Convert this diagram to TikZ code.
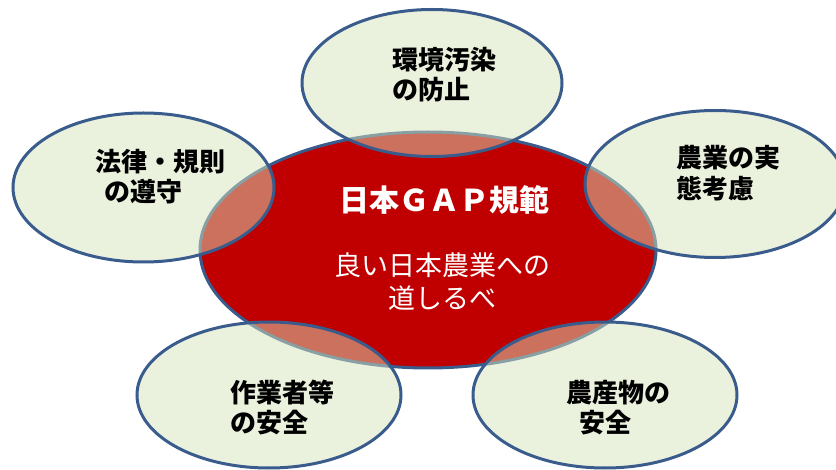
\documentclass[tikz,border=0pt]{standalone}
\usepackage{fontspec}
\usetikzlibrary{shapes.geometric}
\newfontfamily\jp{Noto Sans CJK JP}
\definecolor{coreRed}{RGB}{192,0,0}
\definecolor{rimBlue}{RGB}{58,92,140}
\definecolor{leafFill}{RGB}{214,227,188}
\tikzset{
  coreell/.style={ellipse, inner sep=0pt, fill=coreRed, draw=rimBlue, line width=3pt},
  sideell/.style={ellipse, inner sep=0pt, fill=leafFill, fill opacity=0.5, draw=rimBlue, draw opacity=1, line width=3pt},
  sidetxt/.style={anchor=west, inner sep=0pt, align=left, text=black, font=\jp\bfseries\fontsize{26}{30.5}\selectfont},
  titletxt/.style={inner sep=0pt, text=white, font=\jp\bfseries\fontsize{30}{34}\selectfont},
  subtxt/.style={inner sep=0pt, align=center, text=white, font=\jp\fontsize{27}{33}\selectfont}
}
\begin{document}
\begin{tikzpicture}[x=1pt,y=-1pt]
\useasboundingbox (0,0) rectangle (836,470);
\node[coreell, minimum width=456pt, minimum height=236pt] (core) at (428,250) {};
\node[sideell, minimum width=260pt, minimum height=147pt] (top) at (432,83) {};
\node[sideell, minimum width=261pt, minimum height=149pt] (left) at (143.5,187.5) {};
\node[sideell, minimum width=260pt, minimum height=147pt] (right) at (715,184) {};
\node[sideell, minimum width=264pt, minimum height=146pt] (bl) at (269,395) {};
\node[sideell, minimum width=264pt, minimum height=146pt] (br) at (605,395) {};
\node[titletxt] (title) at (444,200) {日本ＧＡＰ規範};
\node[subtxt] (sub) at (442,281.5) {良い日本農業への\\道しるべ};
\node[sidetxt] (ttop) at (392,74.5) {環境汚染\\の防止};
\node[sidetxt] (tleft) at (95,176.5) {法律・規則\\\hspace*{9pt}の遵守};
\node[sidetxt] (tright) at (676,173) {農業の実\\態考慮};
\node[sidetxt] (tbl) at (230,407.5) {作業者等\\の安全};
\node[sidetxt] (tbr) at (566,407.5) {農産物の\\\hspace*{13pt}安全};
\end{tikzpicture}
\end{document}
